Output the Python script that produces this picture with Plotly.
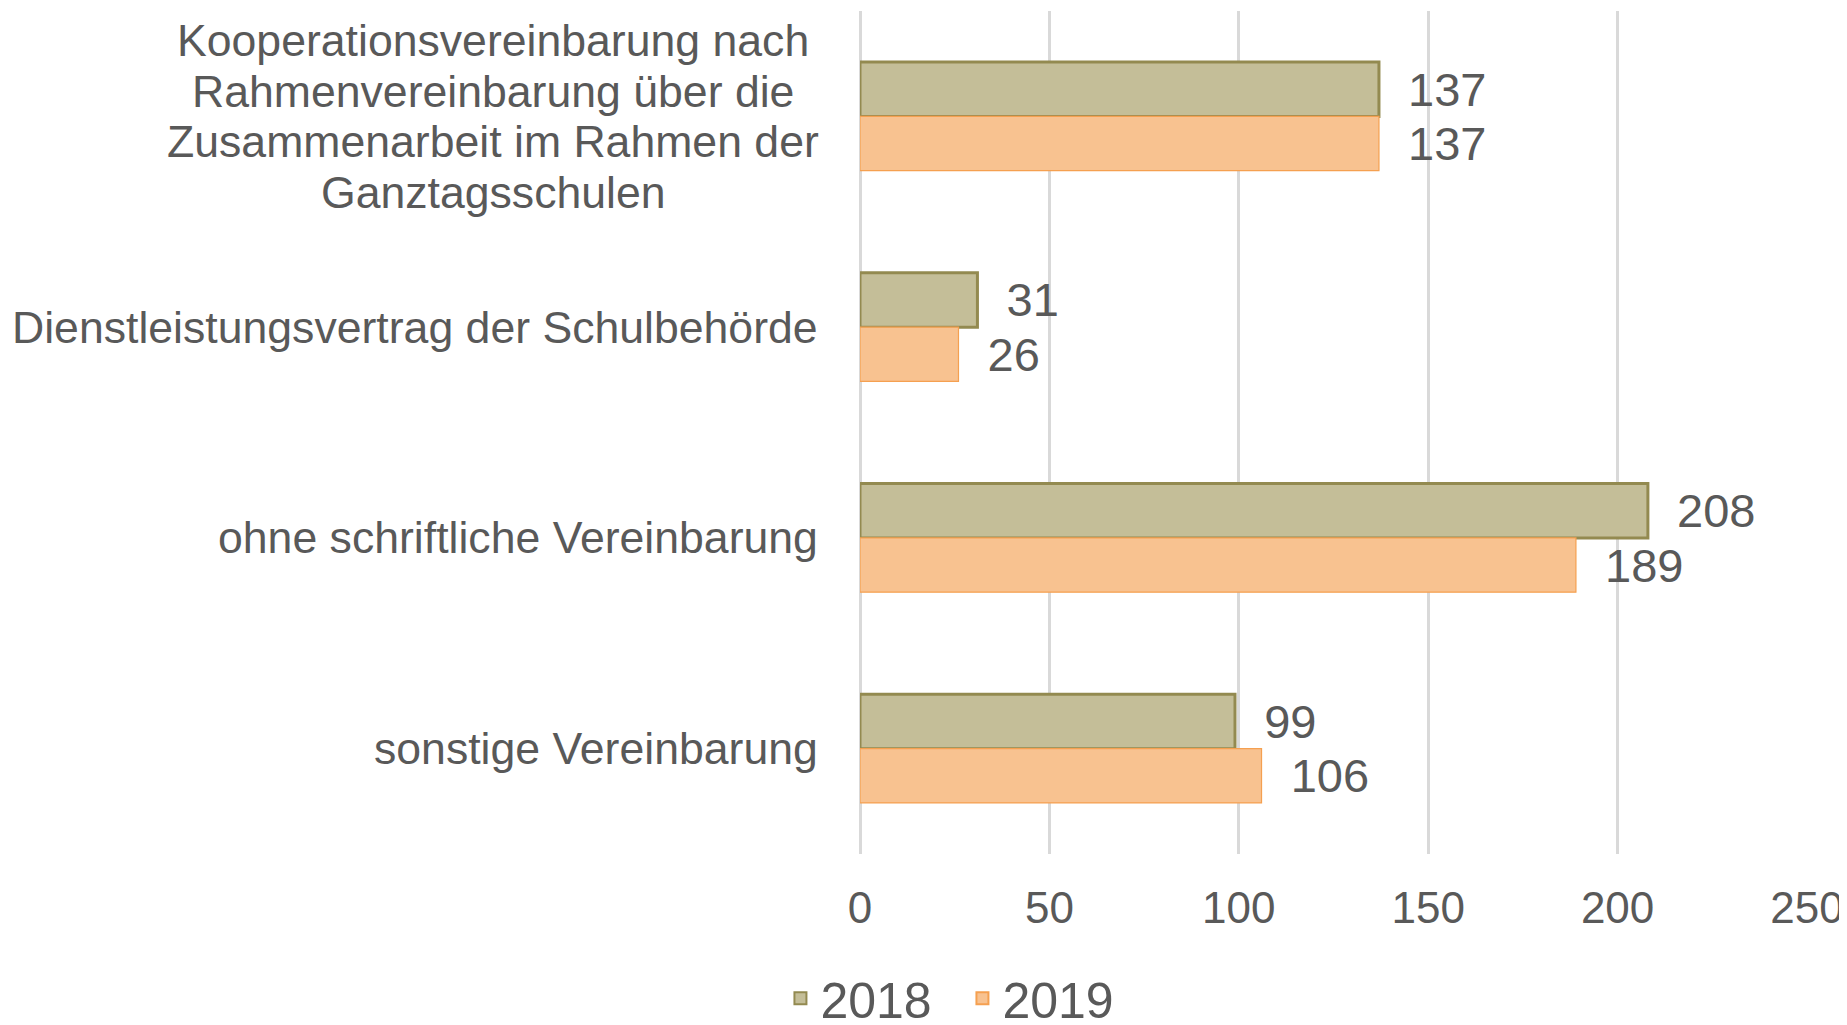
import plotly.graph_objects as go

categories = [
    "Kooperationsvereinbarung nach<br>Rahmenvereinbarung über die<br>Zusammenarbeit im Rahmen der<br>Ganztagsschulen",
    "Dienstleistungsvertrag der Schulbehörde",
    "ohne schriftliche Vereinbarung",
    "sonstige Vereinbarung",
]
series_names = ["2018", "2019"]
values_2018 = [137, 31, 208, 99]
values_2019 = [137, 26, 189, 106]
x_ticks = [0, 50, 100, 150, 200, 250]

FONT = "Liberation Sans, Arial, sans-serif"
TXT = "#595959"
NB = "\u00a0\u00a0"

fig = go.Figure()
fig.add_trace(go.Bar(
    name=series_names[0], y=categories, x=values_2018, orientation="h",
    marker=dict(color="#C4BE98", line=dict(color="#938A50", width=3)),
    text=[NB + str(v) for v in values_2018], textposition="outside",
    textfont=dict(size=47, color=TXT, family=FONT), cliponaxis=False,
    constraintext="none",
))
fig.add_trace(go.Bar(
    name=series_names[1], y=categories, x=values_2019, orientation="h",
    marker=dict(color="#F8C290", line=dict(color="#F5A050", width=1.2)),
    text=[NB + str(v) for v in values_2019], textposition="outside",
    textfont=dict(size=47, color=TXT, family=FONT), cliponaxis=False,
    constraintext="none",
))

LINE_H = 50.7
annotations = []
for c in categories:
    lines = c.split("<br>")
    n = len(lines)
    for i, ln in enumerate(lines):
        if n == 1:
            xa, xs = "right", -40
        else:
            xa, xs = "center", -367
        annotations.append(dict(
            x=0, xref="paper", y=c, yref="y", xanchor=xa, yanchor="middle",
            xshift=xs, yshift=-(i - (n - 1) / 2) * LINE_H,
            text=ln, showarrow=False,
            font=dict(size=44.6, color=TXT, family=FONT),
        ))

fig.update_layout(
    width=1839, height=1017,
    margin=dict(l=852, r=40, t=2.5, b=170.5, autoexpand=False),
    paper_bgcolor="white", plot_bgcolor="white",
    barmode="group", bargap=0.485, bargroupgap=0,
    font=dict(family=FONT, color=TXT, size=44),
    annotations=annotations,
    showlegend=True,
    legend=dict(
        orientation="h", xref="container", yref="paper",
        x=0.519, y=-0.171, xanchor="center", yanchor="middle",
        font=dict(size=50, color=TXT, family=FONT),
        itemsizing="constant", traceorder="normal",
        entrywidth=137, entrywidthmode="pixels",
    ),
    xaxis=dict(
        range=[0, 250], tickvals=x_ticks, showgrid=True,
        gridcolor="#D9D9D9", gridwidth=3, zeroline=True,
        zerolinecolor="#D9D9D9", zerolinewidth=3, showline=False,
        tickfont=dict(size=44, color=TXT, family=FONT),
        ticks="", ticklabelstandoff=24, fixedrange=True, automargin=False,
        ticklabeloverflow="allow",
    ),
    yaxis=dict(
        autorange="reversed", showticklabels=False, showgrid=False,
        zeroline=False, showline=False, ticks="", automargin=False,
    ),
)

fig.write_html("out.html")
